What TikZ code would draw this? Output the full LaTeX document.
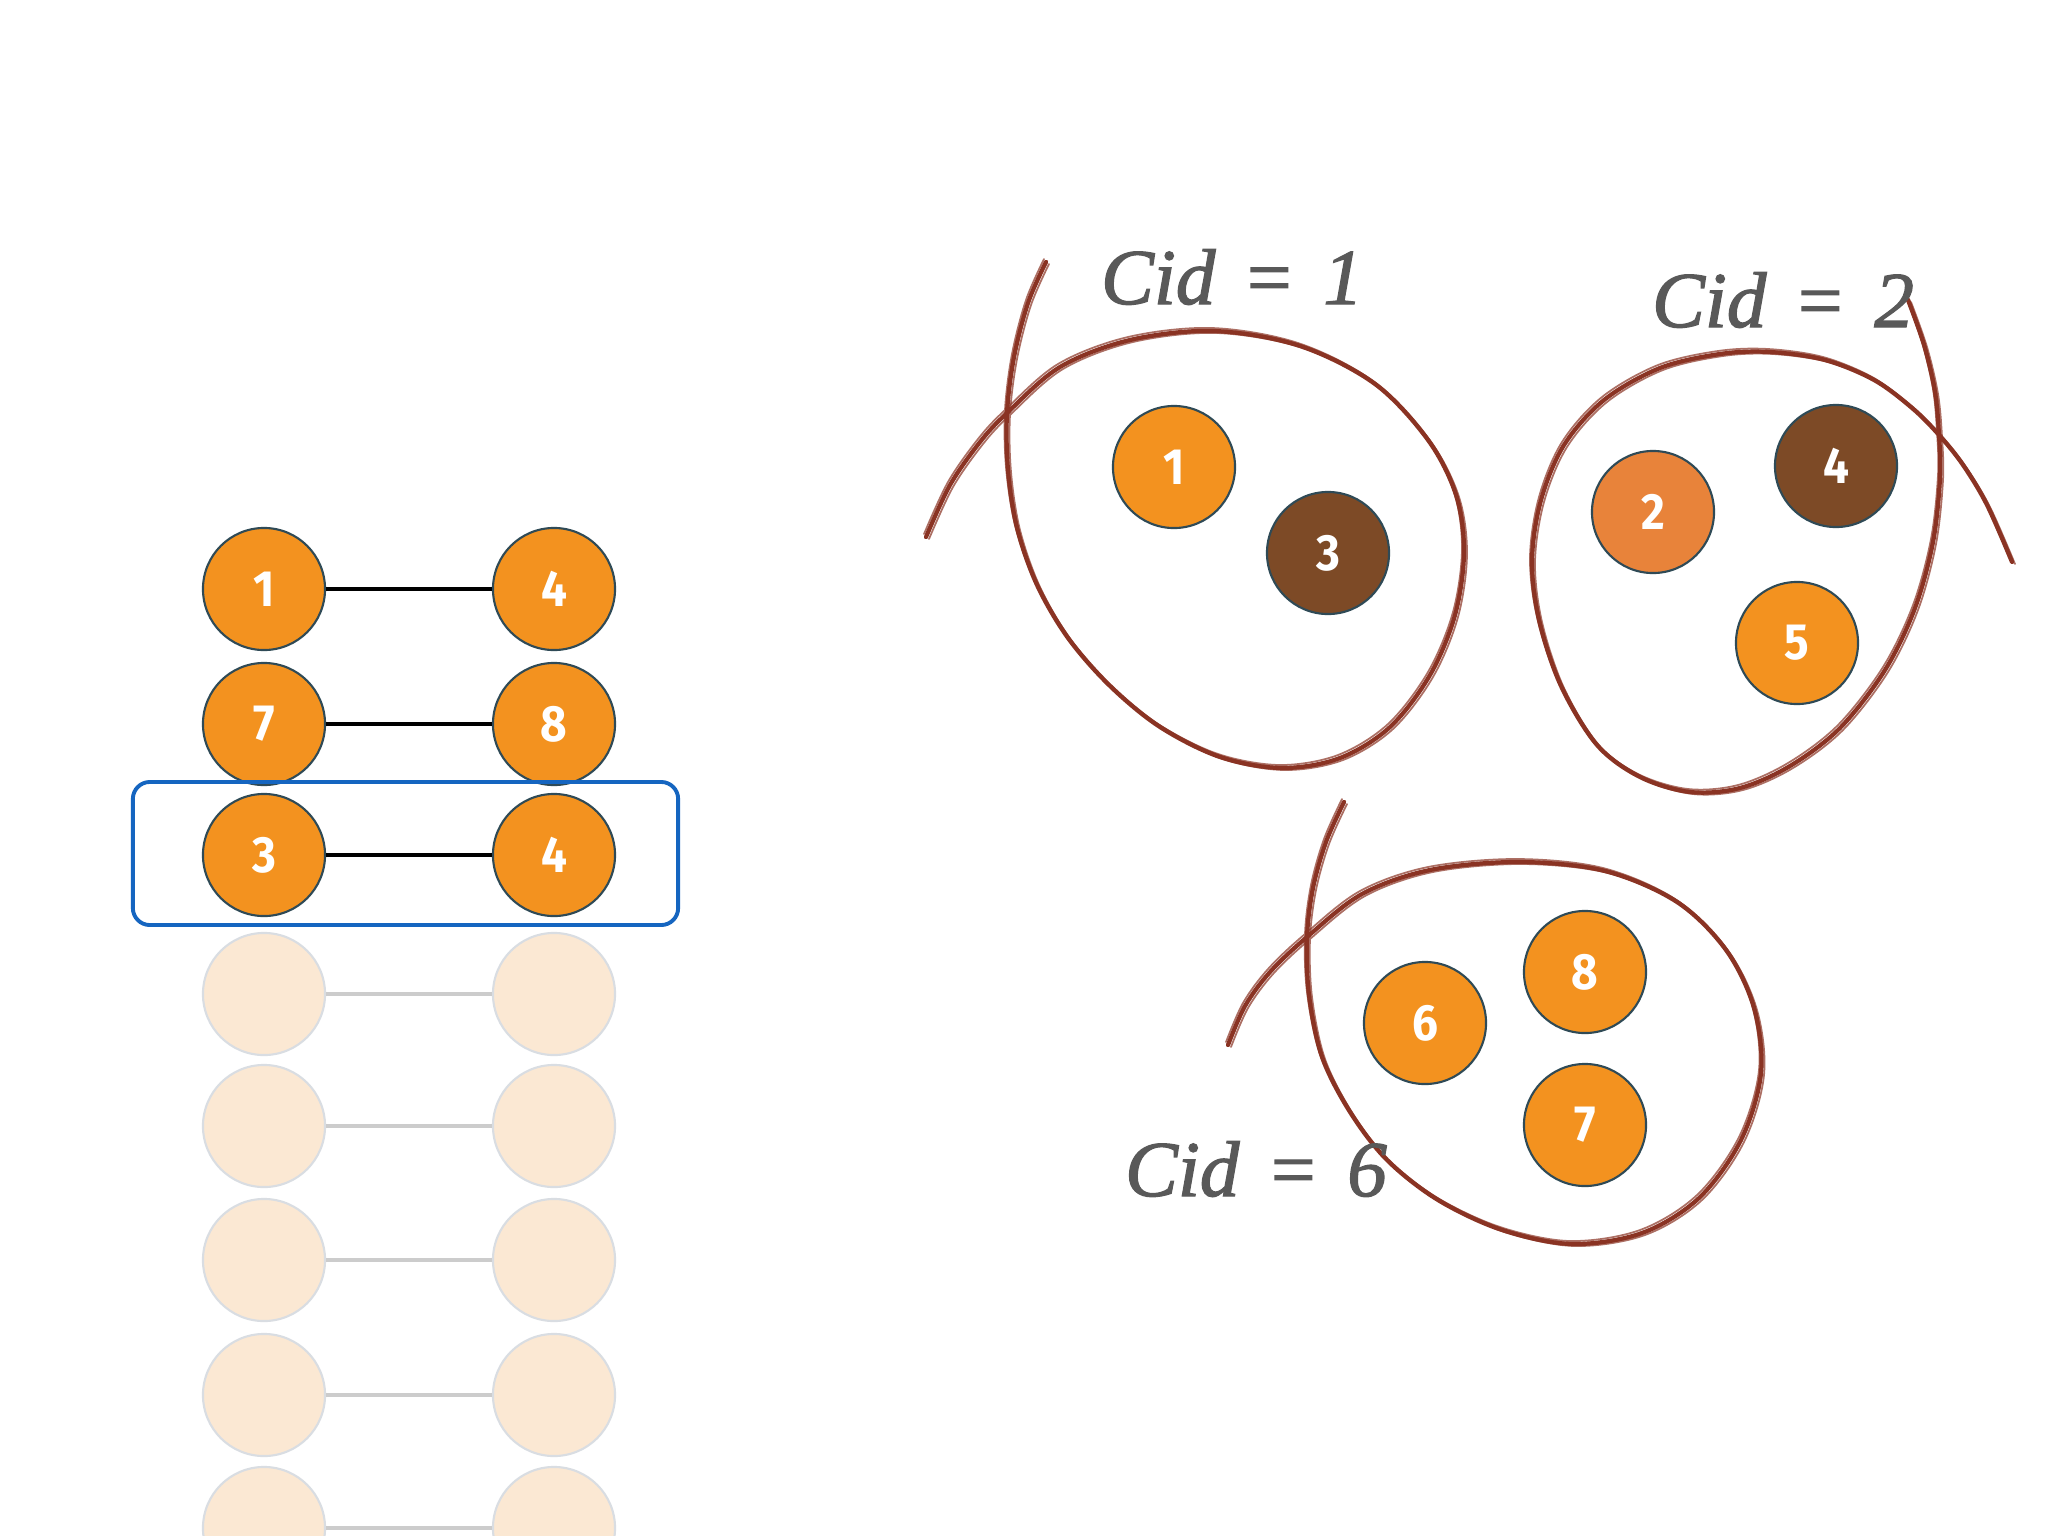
\documentclass[tikz,border=0pt]{standalone}
\usepackage{fontspec}
\newfontfamily\digitfont[FakeStretch=0.9]{Fira Sans}
\newfontfamily\cidfont[FakeBold=1.6]{Liberation Serif}
\definecolor{orng}{HTML}{F3921F}
\definecolor{orngl}{HTML}{E8833A}
\definecolor{brwn}{HTML}{7D4A26}
\definecolor{bord}{HTML}{2F4A56}
\definecolor{fadefill}{HTML}{FBE8D3}
\definecolor{fadebord}{HTML}{D9DDE2}
\definecolor{fadeline}{HTML}{CCCCCC}
\definecolor{boxblue}{HTML}{1565C0}
\definecolor{txtgray}{HTML}{595959}
\definecolor{sketch}{HTML}{8A3323}
\newcommand{\cidtext}[1]{{\itshape Cid}\hspace{0.4em}={\hspace{0.4em}\itshape #1}}
\tikzset{
  nd/.style={circle, minimum size=1.22cm, inner sep=0pt, fill=orng, draw=bord, line width=0.6pt,
    text=white, font=\digitfont\bfseries\fontsize{14.5}{14.5}\selectfont},
  ndb/.style={nd, fill=brwn},
  ndl/.style={nd, fill=orngl},
  fadend/.style={circle, minimum size=1.22cm, inner sep=0pt, fill=fadefill, draw=fadebord, line width=0.6pt},
  edge/.style={black, line width=1.1pt},
  fadeedge/.style={fadeline, line width=1.1pt},
  hl/.style={draw=boxblue, line width=1.1pt, rounded corners=0.17cm},
  cid/.style={text=txtgray, font=\cidfont\fontsize{22.5}{22.5}\selectfont},
  skt/.style={sketch, line width=1.2pt, line cap=round},
  skt2/.style={sketch, line width=0.5pt, opacity=0.7, line cap=round}
}
\begin{document}
\begin{tikzpicture}[x=0.01cm, y=-0.01cm]
\useasboundingbox (0,0) rectangle (2048,1536);
\clip (0,0) rectangle (2048,1536);
\fill[white] (0,0) rectangle (2048,1536);

% left column
\node[nd] (a1) at (264,589) {1};
\node[nd] (b1) at (554,589) {4};
\node[nd] (a2) at (264,724) {7};
\node[nd] (b2) at (554,724) {8};
\node[nd] (a3) at (264,855) {3};
\node[nd] (b3) at (554,855) {4};
\draw[edge] (a1) -- (b1);
\draw[edge] (a2) -- (b2);
\draw[edge] (a3) -- (b3);
\node[hl, minimum width=5.45cm, minimum height=1.43cm] (box) at (405.5,853.5) {};

\node[fadend] (a4) at (264,994) {};
\node[fadend] (b4) at (554,994) {};
\node[fadend] (a5) at (264,1126) {};
\node[fadend] (b5) at (554,1126) {};
\node[fadend] (a6) at (264,1260) {};
\node[fadend] (b6) at (554,1260) {};
\node[fadend] (a7) at (264,1395) {};
\node[fadend] (b7) at (554,1395) {};
\node[fadend] (a8) at (264,1528) {};
\node[fadend] (b8) at (554,1528) {};
\foreach \i in {4,...,8} { \draw[fadeedge] (a\i) -- (b\i); }

% cluster 1
\foreach \s/\dx/\dy in {skt/0/0, skt2/3/2, skt2/-2/-3, skt2/1/-1} {
\draw[\s, shift={(\dx,\dy)}] plot[smooth, tension=0.55] coordinates {
 (926,537) (950,485) (980,442) (1007,413) (1060,367) (1130,340) (1214,331)
 (1300,346) (1375,384) (1428,440) (1456,495) (1464,552) (1455,615) (1430,675)
 (1390,727) (1340,758) (1282,768) (1220,757) (1160,727) (1110,686) (1068,638)
 (1037,585) (1017,528) (1008,470) (1007,413) (1014,357) (1028,303) (1046,262)};
}
\node[nd] (c1) at (1174,467) {1};
\node[ndb] (c3) at (1328,553) {3};
\node[cid] (t1) at (1232,277) {\cidtext{1}};

% cluster 2
\foreach \s/\dx/\dy in {skt/0/0, skt2/3/2, skt2/-2/-3, skt2/1/-1} {
\draw[\s, shift={(\dx,\dy)}] plot[smooth, tension=0.55] coordinates {
 (1908,300) (1924,345) (1935,392) (1939,435) (1940,478) (1933,542) (1915,608)
 (1885,670) (1840,728) (1790,766) (1740,788) (1690,792) (1640,777) (1597,745)
 (1561,686) (1539,620) (1532,560) (1541,500) (1564,445) (1604,400) (1660,368)
 (1720,354) (1770,352) (1825,360) (1874,380) (1912,408) (1939,435) (1963,465)
 (1987,505) (2012,562)};
}
\node[ndl] (c2) at (1653,512) {2};
\node[ndb] (c4) at (1836,466) {4};
\node[nd] (c5) at (1797,643) {5};
\node[cid] (t2) at (1783,300) {\cidtext{2}};

% cluster 3
\foreach \s/\dx/\dy in {skt/0/0, skt2/3/2, skt2/-2/-3, skt2/1/-1} {
\draw[\s, shift={(\dx,\dy)}] plot[smooth, tension=0.55] coordinates {
 (1228,1045) (1245,1006) (1270,972) (1307,937) (1362,894) (1430,870) (1519,862)
 (1605,871) (1677,902) (1726,950) (1754,1008) (1761,1073) (1741,1140) (1699,1198)
 (1642,1233) (1572,1244) (1502,1230) (1438,1200) (1387,1160) (1350,1112)
 (1322,1057) (1309,995) (1307,937) (1313,888) (1326,842) (1344,802)};
}
\node[nd] (c6) at (1425,1023) {6};
\node[nd] (c8) at (1585,972) {8};
\node[nd] (c7) at (1585,1125) {7};
\node[cid] (t6) at (1256,1169) {\cidtext{6}};
\end{tikzpicture}
\end{document}
